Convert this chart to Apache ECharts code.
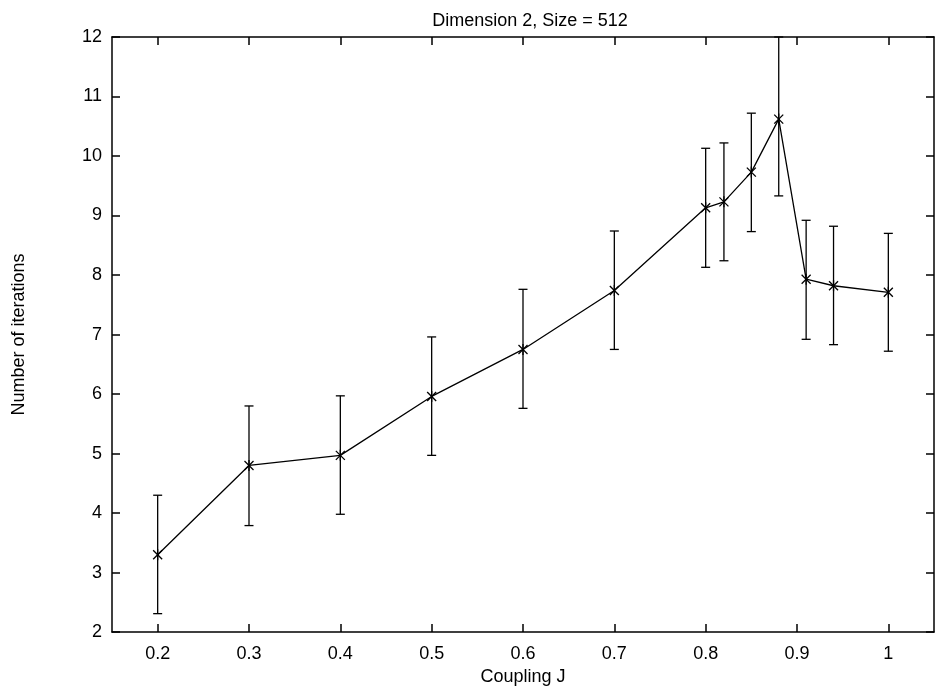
<!DOCTYPE html>
<html>
<head>
<meta charset="utf-8">
<script src="https://cdn.jsdelivr.net/npm/echarts@6/dist/echarts.min.js"></script>
<style>
html,body{margin:0;padding:0;background:#fff;}
#chart{width:936px;height:691px;}
</style>
</head>
<body>
<div id="chart"></div>
<script>
const couplingJ = [0.2, 0.3, 0.4, 0.5, 0.6, 0.7, 0.8, 0.82, 0.85, 0.88, 0.91, 0.94, 1.0];
const iterations = [3.30, 4.80, 4.97, 5.96, 6.75, 7.74, 9.13, 9.23, 9.73, 10.62, 7.93, 7.82, 7.71];
const errLower = [2.31, 3.79, 3.98, 4.97, 5.76, 6.75, 8.13, 8.24, 8.73, 9.33, 6.92, 6.83, 6.72];
const errUpper = [4.30, 5.80, 5.97, 6.96, 7.76, 8.74, 10.13, 10.22, 10.72, 12.0, 8.92, 8.82, 8.70];
const xTickValues = [0.2, 0.3, 0.4, 0.5, 0.6, 0.7, 0.8, 0.9, 1.0];
const yTickValues = [2, 3, 4, 5, 6, 7, 8, 9, 10, 11, 12];

const FONT = 'Liberation Sans, Arial, Helvetica, sans-serif';
const chart = echarts.init(document.getElementById('chart'), null, {renderer: 'canvas'});

const lineData = couplingJ.map((x, i) => [x, iterations[i]]);
const errData = couplingJ.map((x, i) => [x, iterations[i], errLower[i], errUpper[i]]);

const axisLineStyle = {color: '#000', width: 1.5};
const tickStyle = {color: '#000', width: 1.5};

function xAxisDef(pos, showLabel) {
  return {
    type: 'value', position: pos, min: 0.15, max: 1.05,
    axisLine: {show: true, onZero: false, lineStyle: axisLineStyle},
    axisTick: {show: true, inside: true, length: 8, lineStyle: tickStyle, customValues: xTickValues},
    axisLabel: {show: showLabel, customValues: xTickValues, margin: 13, color: '#000', fontSize: 18, fontFamily: FONT,
      formatter: v => String(Math.round(v * 10) / 10)},
    splitLine: {show: false}
  };
}
function yAxisDef(pos, showLabel) {
  return {
    type: 'value', position: pos, min: 2, max: 12, interval: 1,
    axisLine: {show: true, onZero: false, lineStyle: axisLineStyle},
    axisTick: {show: true, inside: true, length: 8, lineStyle: tickStyle},
    axisLabel: {show: showLabel, margin: 10, color: '#000', fontSize: 18, fontFamily: FONT},
    splitLine: {show: false}
  };
}

const xBottom = xAxisDef('bottom', true);
xBottom.name = 'Coupling J';
xBottom.nameLocation = 'middle';
xBottom.nameGap = 34;
xBottom.nameTextStyle = {color: '#000', fontSize: 18, fontFamily: FONT};
const yLeft = yAxisDef('left', true);
yLeft.name = 'Number of iterations';
yLeft.nameLocation = 'middle';
yLeft.nameGap = 84;
yLeft.nameTextStyle = {color: '#000', fontSize: 18, fontFamily: FONT};

chart.setOption({
  animation: false,
  backgroundColor: '#fff',
  title: {
    text: 'Dimension 2, Size = 512',
    left: 530, top: 12, textAlign: 'center', padding: 0,
    textStyle: {color: '#000', fontSize: 18, fontWeight: 'normal', fontFamily: FONT}
  },
  grid: {left: 112, right: 2, top: 37, bottom: 56, containLabel: false},
  xAxis: [xBottom, xAxisDef('top', false)],
  yAxis: [yLeft, yAxisDef('right', false)],
  series: [
    {
      type: 'line', data: lineData, xAxisIndex: 0, yAxisIndex: 0,
      symbol: 'none', lineStyle: {color: '#000', width: 1.3}, z: 2
    },
    {
      type: 'custom', data: errData, xAxisIndex: 0, yAxisIndex: 0,
      encode: {x: 0, y: [1, 2, 3]}, z: 3,
      renderItem: function (params, api) {
        const x = api.value(0), y = api.value(1), lo = api.value(2), hi = api.value(3);
        const p = api.coord([x, y]);
        const pl = api.coord([x, lo]);
        const ph = api.coord([x, hi]);
        const cap = 4.5, s = 4.5;
        const st = {stroke: '#000', lineWidth: 1.3};
        const ln = (x1, y1, x2, y2) => ({type: 'line', shape: {x1, y1, x2, y2}, style: st});
        return {
          type: 'group',
          children: [
            ln(pl[0], pl[1], ph[0], ph[1]),
            ln(pl[0] - cap, pl[1], pl[0] + cap, pl[1]),
            ln(ph[0] - cap, ph[1], ph[0] + cap, ph[1]),
            ln(p[0] - s, p[1] - s, p[0] + s, p[1] + s),
            ln(p[0] - s, p[1] + s, p[0] + s, p[1] - s),
            ln(p[0], p[1] - s - 1, p[0], p[1] + s + 1)
          ]
        };
      }
    }
  ]
});
</script>
</body>
</html>
